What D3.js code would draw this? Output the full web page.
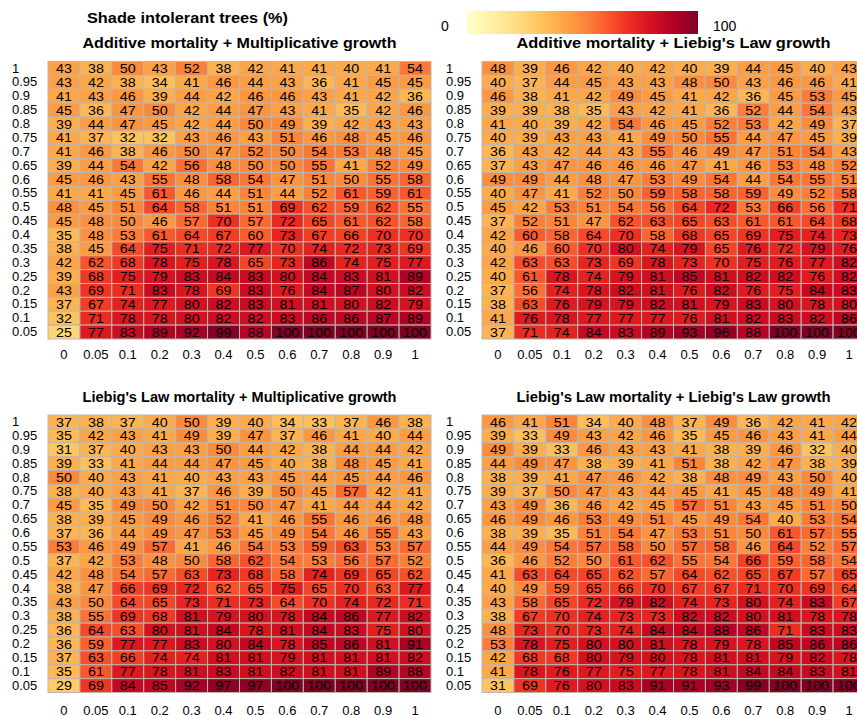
<!DOCTYPE html>
<html><head><meta charset="utf-8">
<script src="https://cdn.jsdelivr.net/npm/d3@7"></script>
<style>
body{margin:0;background:#fff}
svg text{font-family:"Liberation Sans",Arial,Helvetica,sans-serif;fill:#000}
</style>
</head><body>
<svg id="chart" width="857" height="715"></svg>
<script>
const xLabels = ["0","0.05","0.1","0.2","0.3","0.4","0.5","0.6","0.7","0.8","0.9","1"];
const yLabels = ["1","0.95","0.9","0.85","0.8","0.75","0.7","0.65","0.6","0.55","0.5","0.45","0.4","0.35","0.3","0.25","0.2","0.15","0.1","0.05"];
const legendTitle = "Shade intolerant trees (%)";
const panelTitles = ["Additive mortality + Multiplicative growth","Additive mortality + Liebig's Law growth","Liebig's Law mortality + Multiplicative growth","Liebig's Law mortality + Liebig's Law growth"];

const additiveMultiplicative = [
[43,38,50,43,52,38,42,41,41,40,41,54],
[43,42,38,34,41,46,44,43,36,41,45,45],
[41,43,46,39,44,42,46,46,43,41,42,36],
[45,36,47,50,42,44,47,43,41,35,42,46],
[39,44,47,45,42,44,50,49,39,42,43,43],
[41,37,32,32,43,46,43,51,46,48,45,46],
[41,46,38,46,50,47,52,50,54,53,48,45],
[39,44,54,42,56,48,50,50,55,41,52,49],
[45,46,43,55,48,58,54,47,51,50,55,58],
[41,41,45,61,46,44,51,44,52,61,59,61],
[48,45,51,64,58,51,51,69,62,59,62,55],
[45,48,50,46,57,70,57,72,65,61,62,58],
[35,48,53,61,64,67,60,73,67,66,70,70],
[38,45,64,75,71,72,77,70,74,72,73,69],
[42,62,68,78,75,78,65,73,86,74,75,77],
[39,68,75,79,83,84,83,80,84,83,81,89],
[43,69,71,83,78,69,83,76,84,87,80,82],
[37,67,74,77,80,82,83,81,81,80,82,79],
[32,71,78,78,80,82,82,83,86,86,87,89],
[25,77,83,89,92,99,88,100,100,100,100,100]
];
const additiveLiebig = [
[48,39,46,42,40,42,40,39,44,45,40,43],
[40,37,44,45,43,43,48,50,43,46,46,41],
[46,38,41,42,49,45,41,42,36,45,53,45],
[39,39,38,35,43,42,41,36,52,44,54,43],
[41,40,39,42,54,46,45,52,53,42,49,37],
[40,39,43,43,41,49,50,55,44,47,45,39],
[36,43,42,44,43,55,46,49,47,51,54,43],
[37,43,47,46,46,46,47,41,46,53,48,52],
[49,49,44,48,47,53,49,54,44,54,55,51],
[40,47,41,52,50,59,58,58,59,49,52,58],
[45,42,53,51,54,56,64,72,53,66,56,71],
[37,52,51,47,62,63,65,63,61,61,64,68],
[42,60,58,64,70,58,68,65,69,75,74,73],
[40,46,60,70,80,74,79,65,76,72,79,76],
[42,63,63,73,69,78,73,70,75,76,77,82],
[40,61,78,74,79,81,85,81,82,82,76,82],
[37,56,74,78,82,81,76,82,76,75,84,83],
[38,63,76,79,79,82,81,79,83,80,78,80],
[41,76,78,77,77,77,76,81,82,83,82,86],
[37,71,74,84,83,89,93,96,88,100,100,100]
];
const liebigMultiplicative = [
[37,38,37,40,50,39,40,34,33,37,46,38],
[35,42,43,41,49,39,47,37,46,41,40,44],
[31,37,40,43,43,50,44,42,38,44,44,42],
[39,33,41,44,44,47,45,40,38,48,45,41],
[50,40,43,41,40,43,43,45,44,45,44,46],
[38,40,43,41,37,46,39,50,45,57,42,41],
[45,35,49,50,42,51,50,47,41,44,44,42],
[38,39,45,49,46,52,41,46,55,46,46,48],
[37,36,44,49,47,53,45,49,54,46,55,43],
[53,46,49,57,41,46,54,53,59,63,53,57],
[37,42,53,48,50,58,62,54,53,56,57,52],
[42,48,54,57,63,73,68,58,74,69,65,62],
[38,47,66,69,72,62,65,75,65,70,63,77],
[43,50,64,65,73,71,73,64,70,74,72,71],
[38,55,69,68,81,79,80,78,84,86,77,82],
[36,64,63,80,81,84,78,81,84,83,75,80],
[36,59,77,77,83,80,84,78,85,86,81,91],
[37,63,66,74,74,81,81,79,81,81,81,82],
[35,61,77,78,81,83,81,82,81,81,89,88],
[29,69,84,85,92,97,97,100,100,100,100,100]
];
const liebigLiebig = [
[46,41,51,34,40,48,37,49,36,42,41,42],
[39,33,49,43,42,46,35,45,46,43,41,44],
[49,39,33,46,43,43,41,38,39,46,32,40],
[44,49,47,38,39,41,51,38,42,47,38,39],
[38,39,41,47,46,42,38,48,49,43,50,40],
[39,37,50,47,43,44,45,41,45,48,49,41],
[43,49,36,46,42,45,57,51,43,45,51,50],
[46,49,46,53,49,51,45,49,54,40,53,54],
[38,39,35,51,54,47,53,51,50,61,57,55],
[44,49,54,57,58,50,57,58,46,64,52,57],
[36,46,52,50,61,62,55,54,66,59,58,54],
[41,63,64,65,62,57,64,62,65,67,57,65],
[40,49,59,65,66,70,67,67,71,70,69,64],
[43,58,65,72,79,82,74,73,80,74,83,67],
[38,67,70,74,73,73,82,82,80,81,78,78],
[48,73,70,73,74,84,84,88,86,71,83,83],
[53,78,75,80,80,81,78,79,78,85,86,86],
[42,68,68,80,79,80,78,81,81,79,82,78],
[41,78,76,77,75,77,78,81,84,84,83,81],
[31,69,76,80,83,91,91,93,99,100,100,100]
];
const panelData = [additiveMultiplicative, additiveLiebig, liebigMultiplicative, liebigLiebig];

const svg = d3.select("#chart");
const color = d3.scaleSequential(d3.interpolateYlOrRd).domain([0,100]);

const cellW = 383, cellH = 277.5;
const x = d3.scaleBand().domain(xLabels).range([0, cellW]);
const y = d3.scaleBand().domain(yLabels).range([0, cellH]);
const origins = [[48,61.5],[482,61.5],[48,415],[482,415]];
const titleY = [43,43,397,397];

// legend
const defs = svg.append("defs");
const grad = defs.append("linearGradient").attr("id","lg").attr("x1","0%").attr("x2","100%");
d3.range(0,1.0001,0.05).forEach(t=>grad.append("stop").attr("offset",(t*100)+"%").attr("stop-color",d3.interpolateYlOrRd(t)));
const lx = d3.scaleLinear().domain([0,100]).range([467,698]);
svg.append("rect").attr("x",lx(0)).attr("y",11).attr("width",lx(100)-lx(0)).attr("height",23).attr("fill","url(#lg)");
svg.append("text").attr("x",lx(0)-22).attr("y",26).attr("dy","0.35em").attr("text-anchor","middle").style("font-size","14px").text("0");
svg.append("text").attr("x",lx(100)+15).attr("y",26).attr("dy","0.35em").attr("text-anchor","start").style("font-size","14px").text("100");
svg.append("text").attr("x",87).attr("y",18).attr("dy","0.35em").style("font-size","15px").style("font-weight","bold")
  .attr("textLength",201).attr("lengthAdjust","spacingAndGlyphs").text(legendTitle);

panelData.forEach((data,pi)=>{
  const [ox,oy] = origins[pi];
  const g = svg.append("g").attr("transform",`translate(${ox},${oy})`);
  svg.append("text").attr("x",ox+cellW/2).attr("y",titleY[pi]).attr("dy","0.35em").attr("text-anchor","middle")
    .style("font-size","14.5px").style("font-weight","bold")
    .attr("textLength",314).attr("lengthAdjust","spacingAndGlyphs").text(panelTitles[pi]);
  const cells = [];
  data.forEach((row,ri)=>row.forEach((v,ci)=>cells.push({r:yLabels[ri],c:xLabels[ci],v})));
  g.selectAll("rect.cell").data(cells).join("rect").attr("class","cell")
    .attr("x",d=>x(d.c)).attr("y",d=>y(d.r)).attr("width",x.bandwidth()).attr("height",y.bandwidth())
    .attr("fill",d=>color(d.v)).attr("stroke","#bdb5ae").attr("stroke-width",1);
  g.selectAll("text.val").data(cells).join("text").attr("class","val")
    .attr("transform",d=>`translate(${x(d.c)+x.bandwidth()/2},${y(d.r)+y.bandwidth()/2}) scale(1.1,1)`)
    .attr("dy","0.36em").attr("text-anchor","middle").style("font-size","13px").text(d=>d.v);
  // axes
  const ya = g.append("g").call(d3.axisLeft(y).tickSize(0).tickPadding(0));
  ya.select(".domain").remove();
  ya.selectAll("text").attr("text-anchor","start").attr("x",-36).style("font-size","13px").style("font-family","'Liberation Sans',Arial,sans-serif");
  const xa = g.append("g").attr("transform",`translate(0,${cellH})`).call(d3.axisBottom(x).tickSize(0).tickPadding(pi<2?11:13));
  xa.select(".domain").remove();
  xa.selectAll("text").style("font-size","13px").style("font-family","'Liberation Sans',Arial,sans-serif");
});
</script>
</body></html>
